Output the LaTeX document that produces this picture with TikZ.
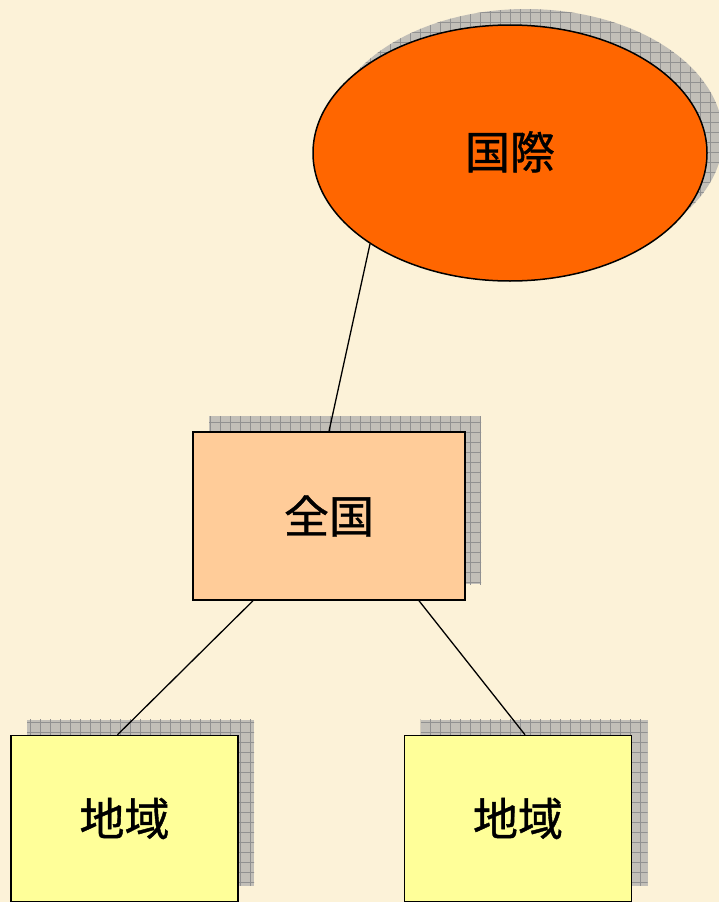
\documentclass[tikz,border=0pt]{standalone}
\usepackage{fontspec}
\newfontfamily\cjk[FakeBold=0.9]{Noto Sans CJK JP}
\usetikzlibrary{shapes.geometric,shadows,patterns.meta}
\definecolor{paper}{RGB}{252,242,216}
\definecolor{intlorange}{RGB}{255,102,0}
\definecolor{nationpeach}{RGB}{255,204,153}
\definecolor{regionyellow}{RGB}{255,255,153}
\definecolor{shadowgray}{RGB}{194,191,184}
\definecolor{gridgray}{RGB}{145,145,145}
\tikzset{
  boxshadow/.style={
    general shadow={shadow xshift=16pt, shadow yshift=16pt, fill=shadowgray},
    general shadow={shadow xshift=16pt, shadow yshift=16pt,
      pattern={Hatch[angle=0,distance=10pt,line width=0.6pt]}, pattern color=gridgray}},
  level/.style={draw=black, line width=1.5pt, boxshadow, font=\cjk\fontsize{45}{50}\selectfont, inner sep=0pt},
  link/.style={line width=1.3pt}
}
\begin{document}
\begin{tikzpicture}[x=1pt,y=-1pt]
\fill[paper] (0,0) rectangle (719,902);
\useasboundingbox (0,0) rectangle (719,902);
\node[level, ellipse, fill=intlorange, minimum width=394pt, minimum height=256pt, text depth=6pt] (intl) at (510,153) {国際};
\node[level, rectangle, fill=nationpeach, minimum width=272pt, minimum height=168pt] (nation) at (329,516) {全国};
\node[level, rectangle, fill=regionyellow, minimum width=227pt, minimum height=166pt] (regionA) at (124.5,818.5) {地域};
\node[level, rectangle, fill=regionyellow, minimum width=227pt, minimum height=166pt] (regionB) at (518,818.5) {地域};
\draw[link] (intl.213) -- (nation.north);
\draw[link] ([xshift=-76pt]nation.south) -- ([xshift=-7pt]regionA.north);
\draw[link] ([xshift=90pt]nation.south) -- ([xshift=7pt]regionB.north);
\end{tikzpicture}
\end{document}
